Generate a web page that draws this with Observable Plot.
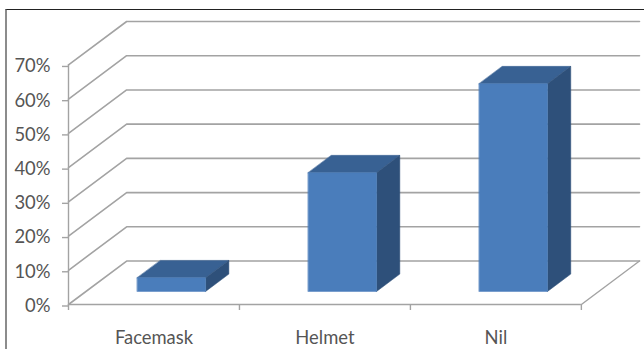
<!DOCTYPE html>
<html>
<head>
<meta charset="utf-8">
<script src="https://cdn.jsdelivr.net/npm/d3@7"></script>
<script src="https://cdn.jsdelivr.net/npm/@observablehq/plot@0.6"></script>
<style>
  html, body { margin: 0; padding: 0; background: #fff; }
  #chart { position: relative; width: 644px; height: 349px; overflow: hidden; }
  #chart svg { display: block; }
  #edge { position: absolute; left: 5px; top: 9px; right: 0; bottom: 0;
          border-top: 1px solid #222; border-left: 2px solid #8c8c8c; pointer-events: none; }
</style>
</head>
<body>
<div id="chart"><div id="edge"></div></div>
<script>
// Share of riders by type of protection
const categories = ["Facemask", "Helmet", "Nil"];
const shares = [4, 34.7, 60.7];
const gridValues = [0, 10, 20, 30, 40, 50, 60, 70];
const categoryTicks = [0, 1, 2, 3];

// Oblique projection: one unit of depth moves a point right (category units) and up (percent)
const depthX = 0.34;
const depthY = 12.7;
const barWidth = 0.4;
const barDepthNear = 0.3;
const barDepthFar = 0.7;

const project = (c, v, d) => ({x: c + d * depthX, y: v + d * depthY});

// Back-wall gridlines, each running from the left wall to the far right
const wallLines = gridValues.flatMap((v) => [
  {id: v, ...project(0, v, 0)},
  {id: v, ...project(0, v, 1)},
  {id: v, ...project(3, v, 1)}
]);
const floorEdge = [project(3, 0, 0), project(3, 0, 1)];

// Three visible faces of each column
const face = (id, pts) => pts.map(([c, v, d]) => ({id, ...project(c, v, d)}));
const frontFaces = [], topFaces = [], sideFaces = [];
categories.forEach((name, i) => {
  const l = i + 0.5 - barWidth / 2, r = i + 0.5 + barWidth / 2, h = shares[i];
  const n = barDepthNear, f = barDepthFar;
  frontFaces.push(...face(name, [[l, 0, n], [r, 0, n], [r, h, n], [l, h, n]]));
  topFaces.push(...face(name, [[l, h, n], [r, h, n], [r, h, f], [l, h, f]]));
  sideFaces.push(...face(name, [[r, 0, n], [r, 0, f], [r, h, f], [r, h, n]]));
});

const axisGray = "#a3a3a3";
const textGray = "#555";
const polygon = (data, fill) =>
  Plot.line(data, {x: "x", y: "y", z: "id", fill, stroke: fill, strokeWidth: 0.5, curve: "linear-closed"});

const chart = Plot.plot({
  width: 644,
  height: 349,
  marginLeft: 68,
  marginRight: 5,
  marginTop: 21,
  marginBottom: 45,
  style: {fontFamily: "Lato, 'Open Sans', sans-serif", fontSize: "18.4px", background: "transparent"},
  x: {domain: [0, 3 + depthX], axis: null},
  y: {domain: [0, 70 + depthY], axis: null},
  marks: [
    Plot.line(wallLines, {x: "x", y: "y", z: "id", stroke: axisGray, strokeWidth: 1.6}),
    Plot.line(floorEdge, {x: "x", y: "y", stroke: axisGray, strokeWidth: 1.4}),
    Plot.ruleX([0], {y1: 0, y2: 70, stroke: axisGray, strokeWidth: 1.4}),
    Plot.ruleY([0], {x1: 0, x2: 3, stroke: axisGray, strokeWidth: 1.6}),
    polygon(topFaces, "#386193"),
    polygon(sideFaces, "#2e507a"),
    polygon(frontFaces, "#4a7dbb"),
    Plot.axisY({
      ticks: gridValues,
      tickFormat: (d) => `${d}%`,
      tickSize: 6,
      tickPadding: 12,
      stroke: axisGray,
      strokeWidth: 1.4,
      color: textGray,
      fill: textGray,
      textStroke: "none",
      label: null,
      dy: 1.5
    }),
    Plot.axisX({
      ticks: categoryTicks,
      tickSize: 6,
      text: null,
      stroke: axisGray,
      strokeWidth: 1.4,
      label: null
    }),
    Plot.axisX({
      ticks: categories.map((_, i) => i + 0.5),
      tickFormat: (d) => categories[Math.floor(d)],
      tickSize: 0,
      tickPadding: 26,
      fill: textGray,
      label: null
    })
  ]
});
document.getElementById("chart").prepend(chart);
</script>
</body>
</html>
